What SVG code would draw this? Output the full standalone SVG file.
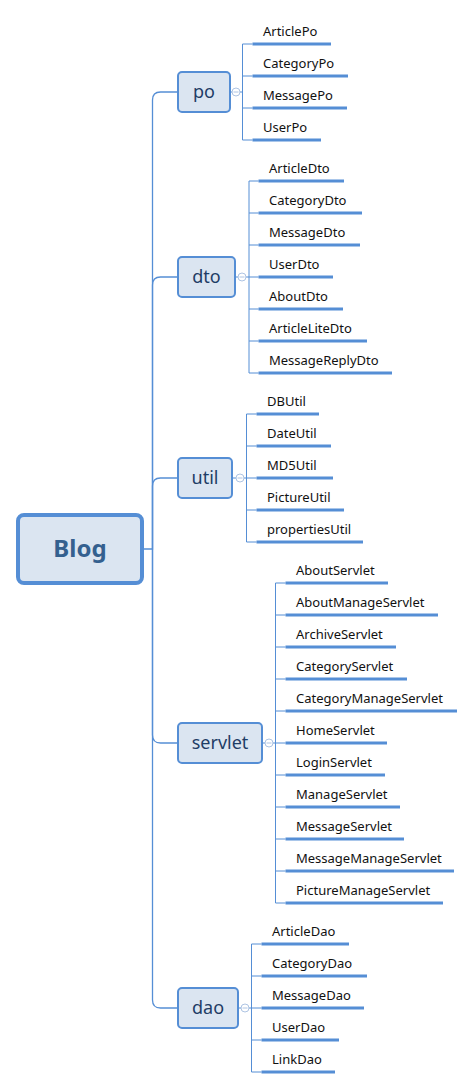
<svg xmlns="http://www.w3.org/2000/svg" width="474" height="1089" viewBox="0 0 474 1089">
<style>
.conn{fill:none;stroke:#558ed5;stroke-width:1.3}
.br{fill:none;stroke:#558ed5;stroke-width:1}
.ul{fill:none;stroke:#558ed5;stroke-width:3}
.box{fill:#dbe5f1;stroke:#558ed5;stroke-width:2}
.root{fill:#dbe5f1;stroke:#558ed5;stroke-width:4}
.lbl{font-family:"Noto Sans","Open Sans","DejaVu Sans",sans-serif;font-size:18px;fill:#1f3d66;text-anchor:middle}
.rt{font-family:"Noto Sans","Open Sans","DejaVu Sans",sans-serif;font-size:24px;font-weight:bold;fill:#34608f;text-anchor:middle}
.ch{font-family:"Noto Sans","Open Sans","DejaVu Sans",sans-serif;font-size:13px;fill:#111}
.cc{fill:#fff;stroke:#aec4e3;stroke-width:1}
.cm{stroke:#aec4e3;stroke-width:1}
</style>
<rect width="474" height="1089" fill="#fff"/>
<g id="connectors">
<path class="conn" d="M144,549 H152.5 V100 Q152.5,92 160.5,92 H178"/>
<path class="conn" d="M152.5,549 V285 Q152.5,277 160.5,277 H178"/>
<path class="conn" d="M152.5,549 V486 Q152.5,478 160.5,478 H178"/>
<path class="conn" d="M152.5,549 V735 Q152.5,743 160.5,743 H178"/>
<path class="conn" d="M152.5,549 V1000 Q152.5,1008 160.5,1008 H178"/>
<!-- po children -->
<path class="br" d="M230,92 H242.5 M242.5,44 V140 M242.5,44 H252.5 M242.5,76 H252.5 M242.5,108 H252.5 M242.5,140 H252.5"/>
<!-- dto children -->
<path class="br" d="M236,277 H249 M249,181 V373 M249,181 H258.5 M249,213 H258.5 M249,245 H258.5 M249,277 H258.5 M249,309 H258.5 M249,341 H258.5 M249,373 H258.5"/>
<!-- util children -->
<path class="br" d="M233,478 H246.5 M246.5,414 V542 M246.5,414 H256.5 M246.5,446 H256.5 M246.5,478 H256.5 M246.5,510 H256.5 M246.5,542 H256.5"/>
<!-- servlet children -->
<path class="br" d="M262,743 H275.5 M275.5,583 V903 M275.5,583 H285.5 M275.5,615 H285.5 M275.5,647 H285.5 M275.5,679 H285.5 M275.5,711 H285.5 M275.5,743 H285.5 M275.5,775 H285.5 M275.5,807 H285.5 M275.5,839 H285.5 M275.5,871 H285.5 M275.5,903 H285.5"/>
<!-- dao children -->
<path class="br" d="M238,1008 H251.5 M251.5,944 V1072 M251.5,944 H261.5 M251.5,976 H261.5 M251.5,1008 H261.5 M251.5,1040 H261.5 M251.5,1072 H261.5"/>
</g>
<g id="root">
<rect class="root" x="18" y="515" width="124" height="68" rx="6"/>
<text class="rt" x="80" y="557">Blog</text>
</g>
<g id="po">
<rect class="box" x="178" y="72" width="52" height="40" rx="4"/>
<text class="lbl" x="204" y="98">po</text>
<circle class="cc" cx="236" cy="92" r="4"/><path class="cm" d="M233.5,92 H238.5"/>
</g>
<g id="dto">
<rect class="box" x="178" y="257" width="57" height="40" rx="4"/>
<text class="lbl" x="206.5" y="283">dto</text>
<circle class="cc" cx="242" cy="277" r="4"/><path class="cm" d="M239.5,277 H244.5"/>
</g>
<g id="util">
<rect class="box" x="178" y="458" width="54" height="40" rx="4"/>
<text class="lbl" x="205" y="484">util</text>
<circle class="cc" cx="240" cy="478" r="4"/><path class="cm" d="M237.5,478 H242.5"/>
</g>
<g id="servlet">
<rect class="box" x="178" y="723" width="84" height="40" rx="4"/>
<text class="lbl" x="220" y="749">servlet</text>
<circle class="cc" cx="269" cy="743" r="4"/><path class="cm" d="M266.5,743 H271.5"/>
</g>
<g id="dao">
<rect class="box" x="178" y="988" width="60" height="40" rx="4"/>
<text class="lbl" x="208" y="1014">dao</text>
<circle class="cc" cx="245" cy="1008" r="4"/><path class="cm" d="M242.5,1008 H247.5"/>
</g>
<g id="po-children">
<g id="ArticlePo"><path class="ul" d="M252.5,44 H331"/><text class="ch" x="263" y="36">ArticlePo</text></g>
<g id="CategoryPo"><path class="ul" d="M252.5,76 H348"/><text class="ch" x="263" y="68">CategoryPo</text></g>
<g id="MessagePo"><path class="ul" d="M252.5,108 H347"/><text class="ch" x="263" y="100">MessagePo</text></g>
<g id="UserPo"><path class="ul" d="M252.5,140 H321"/><text class="ch" x="263" y="132">UserPo</text></g>
</g>
<g id="dto-children">
<g id="ArticleDto"><path class="ul" d="M258.5,181 H344"/><text class="ch" x="269" y="173">ArticleDto</text></g>
<g id="CategoryDto"><path class="ul" d="M258.5,213 H362"/><text class="ch" x="269" y="205">CategoryDto</text></g>
<g id="MessageDto"><path class="ul" d="M258.5,245 H360"/><text class="ch" x="269" y="237">MessageDto</text></g>
<g id="UserDto"><path class="ul" d="M258.5,277 H333"/><text class="ch" x="269" y="269">UserDto</text></g>
<g id="AboutDto"><path class="ul" d="M258.5,309 H343"/><text class="ch" x="269" y="301">AboutDto</text></g>
<g id="ArticleLiteDto"><path class="ul" d="M258.5,341 H367"/><text class="ch" x="269" y="333">ArticleLiteDto</text></g>
<g id="MessageReplyDto"><path class="ul" d="M258.5,373 H392"/><text class="ch" x="269" y="365">MessageReplyDto</text></g>
</g>
<g id="util-children">
<g id="DBUtil"><path class="ul" d="M256.5,414 H319"/><text class="ch" x="267" y="406">DBUtil</text></g>
<g id="DateUtil"><path class="ul" d="M256.5,446 H331"/><text class="ch" x="267" y="438">DateUtil</text></g>
<g id="MD5Util"><path class="ul" d="M256.5,478 H333"/><text class="ch" x="267" y="470">MD5Util</text></g>
<g id="PictureUtil"><path class="ul" d="M256.5,510 H344"/><text class="ch" x="267" y="502">PictureUtil</text></g>
<g id="propertiesUtil"><path class="ul" d="M256.5,542 H363"/><text class="ch" x="267" y="534">propertiesUtil</text></g>
</g>
<g id="servlet-children">
<g id="AboutServlet"><path class="ul" d="M285.5,583 H388"/><text class="ch" x="296" y="575">AboutServlet</text></g>
<g id="AboutManageServlet"><path class="ul" d="M285.5,615 H438"/><text class="ch" x="296" y="607">AboutManageServlet</text></g>
<g id="ArchiveServlet"><path class="ul" d="M285.5,647 H396"/><text class="ch" x="296" y="639">ArchiveServlet</text></g>
<g id="CategoryServlet"><path class="ul" d="M285.5,679 H407"/><text class="ch" x="296" y="671">CategoryServlet</text></g>
<g id="CategoryManageServlet"><path class="ul" d="M285.5,711 H457"/><text class="ch" x="296" y="703">CategoryManageServlet</text></g>
<g id="HomeServlet"><path class="ul" d="M285.5,743 H387"/><text class="ch" x="296" y="735">HomeServlet</text></g>
<g id="LoginServlet"><path class="ul" d="M285.5,775 H385"/><text class="ch" x="296" y="767">LoginServlet</text></g>
<g id="ManageServlet"><path class="ul" d="M285.5,807 H400"/><text class="ch" x="296" y="799">ManageServlet</text></g>
<g id="MessageServlet"><path class="ul" d="M285.5,839 H404"/><text class="ch" x="296" y="831">MessageServlet</text></g>
<g id="MessageManageServlet"><path class="ul" d="M285.5,871 H454"/><text class="ch" x="296" y="863">MessageManageServlet</text></g>
<g id="PictureManageServlet"><path class="ul" d="M285.5,903 H443"/><text class="ch" x="296" y="895">PictureManageServlet</text></g>
</g>
<g id="dao-children">
<g id="ArticleDao"><path class="ul" d="M261.5,944 H349"/><text class="ch" x="272" y="936">ArticleDao</text></g>
<g id="CategoryDao"><path class="ul" d="M261.5,976 H367"/><text class="ch" x="272" y="968">CategoryDao</text></g>
<g id="MessageDao"><path class="ul" d="M261.5,1008 H364"/><text class="ch" x="272" y="1000">MessageDao</text></g>
<g id="UserDao"><path class="ul" d="M261.5,1040 H339"/><text class="ch" x="272" y="1032">UserDao</text></g>
<g id="LinkDao"><path class="ul" d="M261.5,1072 H335"/><text class="ch" x="272" y="1064">LinkDao</text></g>
</g>
</svg>
